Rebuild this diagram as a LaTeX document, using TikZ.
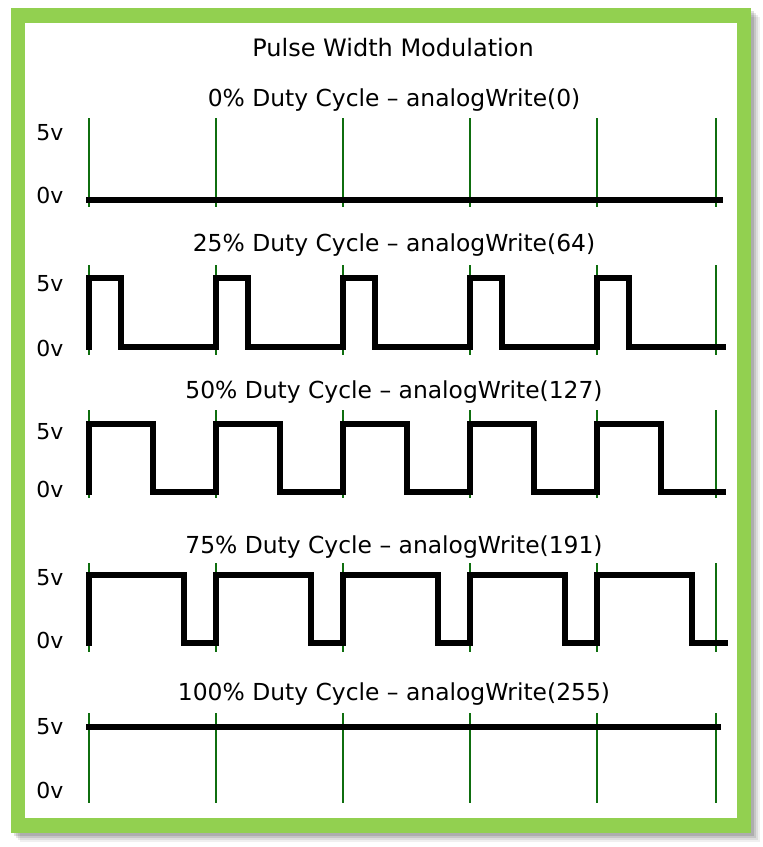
\documentclass[tikz,border=0pt]{standalone}
\usepackage{fontspec}
\setmainfont{DejaVu Sans}
\definecolor{framegreen}{RGB}{146,208,80}
\definecolor{gridgreen}{RGB}{15,110,15}
\tikzset{
  gridline/.style={draw=gridgreen, line width=2.4pt},
  wave/.style={draw=black, line width=5.5pt, line join=miter, line cap=rect},
  ttl/.style={font=\fontsize{24}{27}\selectfont, inner sep=0pt},
  sub/.style={font=\fontsize{23.4}{26}\selectfont, inner sep=0pt},
  vlab/.style={font=\fontsize{22}{24}\selectfont, inner sep=0pt},
}
\begin{document}
\begin{tikzpicture}[x=1pt,y=-1pt]
\useasboundingbox (0,0) rectangle (763,847);
\fill[white] (0,0) rectangle (763,847);
% shadow
\foreach \o/\op in {9/0.06,7/0.08,5/0.10,3/0.12}{
  \fill[black,opacity=\op] (11+\o,8+\o) rectangle (751+\o,833+\o);
}
% frame
\fill[framegreen] (11,8) rectangle (751,833);
\fill[white] (25,23) rectangle (737,818);
% titles
\node[ttl] (title) at (393,48) {Pulse Width Modulation};
\node[sub] (t1) at (394,100) {0\% Duty Cycle – analogWrite(0)};
\node[sub] (t2) at (394,245) {25\% Duty Cycle – analogWrite(64)};
\node[sub] (t3) at (394,392) {50\% Duty Cycle – analogWrite(127)};
\node[sub] (t4) at (394,547) {75\% Duty Cycle – analogWrite(191)};
\node[sub] (t5) at (394,694) {100\% Duty Cycle – analogWrite(255)};
% voltage labels
\node[vlab] (h1) at (50,133) {5v}; \node[vlab] (l1) at (50,195) {0v};
\node[vlab] (h2) at (50,284) {5v}; \node[vlab] (l2) at (50,348) {0v};
\node[vlab] (h3) at (50,432) {5v}; \node[vlab] (l3) at (50,489) {0v};
\node[vlab] (h4) at (50,578) {5v}; \node[vlab] (l4) at (50,640) {0v};
\node[vlab] (h5) at (50,727) {5v}; \node[vlab] (l5) at (50,790) {0v};
% green grid lines
\foreach \t/\b in {118/207,265/355,410/498,563/652,713/803}{
  \foreach \x in {89,216,343,470,597,716}{
    \draw[gridline] (\x,\t) -- (\x,\b);
  }
}
% 0%
\draw[wave] (89,200) -- (720,200);
% 25%
\draw[wave] (89,347)
  \foreach \s in {89,216,343,470,597}{ -- (\s,347) -- (\s,278) -- ({\s+32},278) -- ({\s+32},347) }
  -- (723,347);
% 50%
\draw[wave] (89,492)
  \foreach \s in {89,216,343,470,597}{ -- (\s,492) -- (\s,424) -- ({\s+64},424) -- ({\s+64},492) }
  -- (723,492);
% 75%
\draw[wave] (89,643)
  \foreach \s in {89,216,343,470,597}{ -- (\s,643) -- (\s,575) -- ({\s+95},575) -- ({\s+95},643) }
  -- (725,643);
% 100%
\draw[wave] (89,727) -- (718,727);
\end{tikzpicture}
\end{document}
